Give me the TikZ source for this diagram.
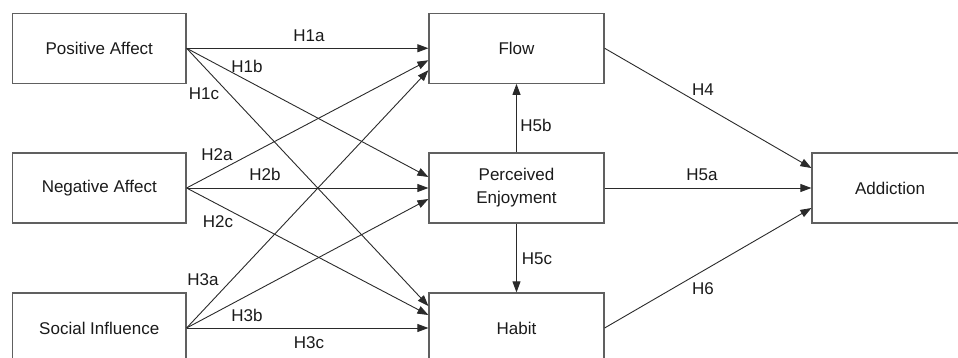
\documentclass[tikz,border=0pt]{standalone}
\usepackage{fontspec}
\setmainfont{Liberation Sans}
\usetikzlibrary{arrows.meta}
\definecolor{boxgray}{HTML}{606060}
\definecolor{linegray}{HTML}{2A2A2A}
\definecolor{txt}{HTML}{1A1A1A}
\begin{document}
\begin{tikzpicture}[x=1pt,y=-1pt,
  box/.style={draw=boxgray, line width=1.2pt, minimum width=173.5pt, minimum height=70pt,
    inner sep=0pt, align=center, font=\fontsize{17}{23}\selectfont, text=txt},
  link/.style={draw=linegray, line width=0.9pt, -{Triangle[length=11pt,width=8pt]}},
  lbl/.style={font=\fontsize{17}{20}\selectfont, text=txt, inner sep=0pt}]
\useasboundingbox (0,0) rectangle (958,358);
\clip (0,0) rectangle (958,358);

% constructs
\node[box] (pa) at (99.25,48.25) {Positive Affect};
\node[box] (na) at (99.25,188) {Negative Affect};
\node[box] (si) at (99.25,328) {Social Influence};
\node[box, minimum width=175pt] (flow) at (516.5,48.25) {Flow};
\node[box, minimum width=175pt] (pe) at (516.5,188) {Perceived\\Enjoyment};
\node[box, minimum width=175pt] (hab) at (516.5,328) {Habit};
\node[box, minimum width=156pt] (add) at (890,188) {Addiction};

% paths from the antecedents
\draw[link] (pa.east) -- (flow.west);
\draw[link] (pa.east) -- ([yshift=11pt]pe.west);
\draw[link] (pa.east) -- ([yshift=22pt]hab.west);
\draw[link] (na.east) -- ([yshift=-12pt]flow.west);
\draw[link] (na.east) -- (pe.west);
\draw[link] (na.east) -- ([yshift=13pt]hab.west);
\draw[link] (si.east) -- ([yshift=-22pt]flow.west);
\draw[link] (si.east) -- ([yshift=-11pt]pe.west);
\draw[link] (si.east) -- (hab.west);

% paths among the mediators and to the outcome
\draw[link] (pe.north) -- (flow.south);
\draw[link] (pe.south) -- (hab.north);
\draw[link] (flow.east) -- ([yshift=20pt]add.west);
\draw[link] (pe.east) -- (add.west);
\draw[link] (hab.east) -- ([yshift=-20pt]add.west);

% hypothesis labels
\node[lbl] (h1a) at (309,36) {H1a};
\node[lbl] (h1b) at (247,66) {H1b};
\node[lbl] (h1c) at (204,94) {H1c};
\node[lbl] (h2a) at (217,155) {H2a};
\node[lbl] (h2b) at (265,174) {H2b};
\node[lbl] (h2c) at (218,222) {H2c};
\node[lbl] (h3a) at (203,280) {H3a};
\node[lbl] (h3b) at (247,315) {H3b};
\node[lbl] (h3c) at (309,343) {H3c};
\node[lbl] (h4) at (703,90) {H4};
\node[lbl] (h5a) at (702,175) {H5a};
\node[lbl] (h5b) at (536,125) {H5b};
\node[lbl] (h5c) at (537,259) {H5c};
\node[lbl] (h6) at (703,289) {H6};
\end{tikzpicture}
\end{document}
